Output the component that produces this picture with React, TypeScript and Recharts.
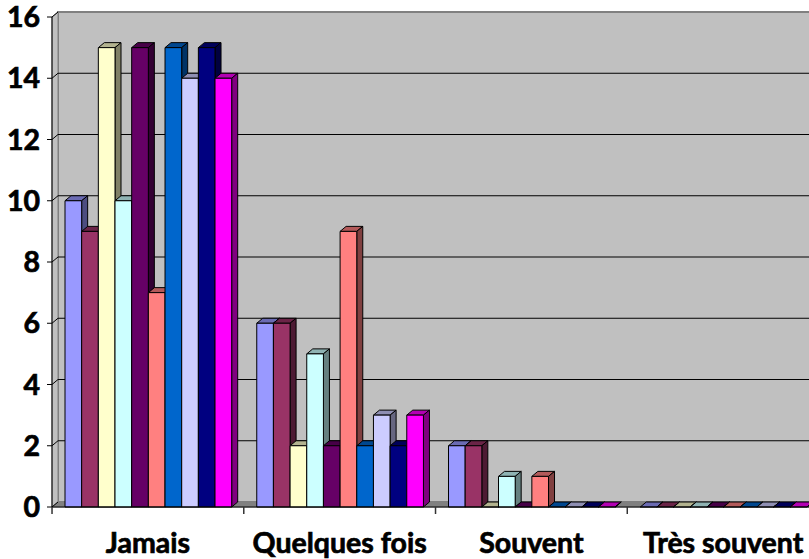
// Excel style 3D clustered columns: answers per frequency
import { BarChart, Bar, XAxis, YAxis, CartesianGrid, ReferenceArea } from 'recharts'

const FONT = 'Lato, "Noto Sans", sans-serif'
const DEPTH_X = 6
const DEPTH_Y = 5
const CATEGORY_WIDTH = 191.7
const BAR_GAP = 0.67

const categories = ['Jamais', 'Quelques fois', 'Souvent', 'Très souvent']
const yTicks = [0, 2, 4, 6, 8, 10, 12, 14, 16]

const s1 = [10, 6, 2, 0]
const s2 = [9, 6, 2, 0]
const s3 = [15, 2, 0, 0]
const s4 = [10, 5, 1, 0]
const s5 = [15, 2, 0, 0]
const s6 = [7, 9, 1, 0]
const s7 = [15, 2, 0, 0]
const s8 = [14, 3, 0, 0]
const s9 = [15, 2, 0, 0]
const s10 = [14, 3, 0, 0]
const seriesValues = [s1, s2, s3, s4, s5, s6, s7, s8, s9, s10]
const seriesColors = ['#9999ff', '#993366', '#ffffcc', '#ccffff', '#660066', '#ff8080', '#0066cc', '#ccccff', '#000080', '#ff00ff']

const data = categories.map((name, i) => {
  const row: Record<string, string | number> = { name }
  seriesValues.forEach((vals, j) => { row['s' + j] = vals[i] })
  return row
})

function shade(hex: string, k: number) {
  const n = parseInt(hex.slice(1), 16)
  const c = [(n >> 16) & 255, (n >> 8) & 255, n & 255].map(v => Math.round(v * k))
  return `rgb(${c[0]},${c[1]},${c[2]})`
}

function Bar3D(props: any) {
  const { x, y, height, fill } = props
  const width = props.width + BAR_GAP
  const dx = DEPTH_X
  const dy = DEPTH_Y
  return (
    <g stroke="#000" strokeWidth={1} strokeLinejoin="round">
      <polygon points={`${x},${y} ${x + dx},${y - dy} ${x + width + dx},${y - dy} ${x + width},${y}`} fill={shade(fill, 0.7)} />
      <polygon points={`${x + width},${y} ${x + width + dx},${y - dy} ${x + width + dx},${y + height - dy} ${x + width},${y + height}`} fill={shade(fill, 0.5)} />
      <rect x={x} y={y} width={width} height={height} fill={fill} />
    </g>
  )
}

function Walls(props: any) {
  const { x, y, width, height } = props
  const b = y + height
  const r = x + width
  return (
    <g>
      <rect x={x + DEPTH_X} y={y - DEPTH_Y} width={width} height={height} fill="#c0c0c0" stroke="#808080" strokeWidth={2} />
      <polygon points={`${x},${y} ${x + DEPTH_X},${y - DEPTH_Y} ${x + DEPTH_X},${b - DEPTH_Y} ${x},${b}`} fill="#c0c0c0" stroke="#808080" />
      <polygon points={`${x},${b} ${x + DEPTH_X},${b - DEPTH_Y} ${r + DEPTH_X},${b - DEPTH_Y} ${r},${b}`} fill="#808080" stroke="#808080" />
    </g>
  )
}

function GridLine(props: any) {
  const { x1, x2, y1, index } = props
  const inner = index > 0 && index < yTicks.length - 1
  return (
    <g stroke="#000" strokeWidth={1} fill="none">
      <line x1={x1} y1={y1} x2={x1 + DEPTH_X} y2={y1 - DEPTH_Y} />
      {inner && <line x1={x1 + DEPTH_X} y1={y1 - DEPTH_Y} x2={x2 + DEPTH_X} y2={y1 - DEPTH_Y} />}
    </g>
  )
}

function CategoryTick(props: any) {
  const { x, y, payload } = props
  const left = x - CATEGORY_WIDTH / 2
  const top = y - 8
  return (
    <g>
      <line x1={left} y1={top} x2={left} y2={top + 7} stroke="#333" strokeWidth={1.5} />
      <text x={x} y={top + 46} textAnchor="middle" fontFamily={FONT} fontWeight={700} fontSize={28.5} fill="#000" stroke="#000" strokeWidth={0.7}>
        {payload.value}
      </text>
    </g>
  )
}

export default function App() {
  return (
    <div style={{ position: 'absolute', left: 0, top: 0, width: 809, height: 559, overflow: 'hidden', background: '#fff' }}>
      <BarChart
        width={830}
        height={559}
        data={data}
        margin={{ top: 17, right: 11, bottom: 0, left: 0 }}
        barSize={16}
        barGap={BAR_GAP}
      >
        <ReferenceArea y1={0} y2={16} shape={Walls} ifOverflow="visible" zIndex={-200} />
        <CartesianGrid vertical={false} horizontal={GridLine} />
        <XAxis dataKey="name" height={52} axisLine={{ stroke: '#000' }} tickLine={false} interval={0} tick={CategoryTick} />
        <YAxis
          width={52}
          domain={[0, 16]}
          ticks={yTicks}
          interval={0}
          axisLine={{ stroke: '#000' }}
          tickLine={{ stroke: '#000' }}
          tickSize={5}
          tickMargin={7}
          tick={{ fontFamily: FONT, fontWeight: 700, fontSize: 28.5, fill: '#000', stroke: '#000', strokeWidth: 0.7 }}
        />
        {seriesValues.map((_, j) => (
          <Bar key={j} dataKey={'s' + j} fill={seriesColors[j]} shape={Bar3D} isAnimationActive={false} />
        ))}
      </BarChart>
    </div>
  )
}
